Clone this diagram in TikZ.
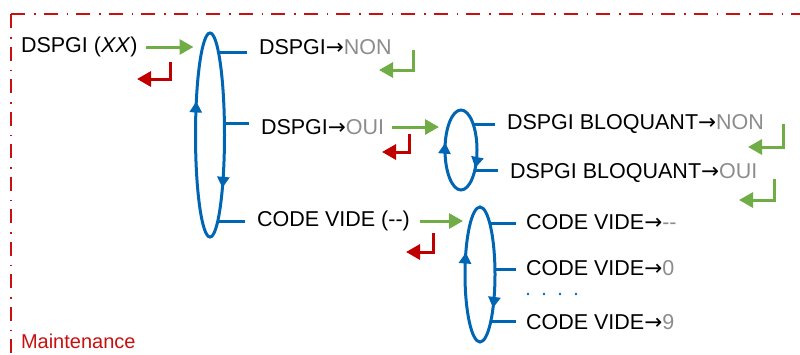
\documentclass[tikz,border=0pt]{standalone}
\usepackage{fontspec}
\setmainfont{Liberation Sans}
\newfontfamily\arrowfont{DejaVu Sans}
\usetikzlibrary{positioning, arrows.meta, shapes.geometric, decorations.markings}
\definecolor{loopblue}{RGB}{0,101,178}
\definecolor{fwdgreen}{RGB}{112,173,71}
\definecolor{backred}{RGB}{192,0,0}
\definecolor{valgray}{RGB}{140,140,140}
\definecolor{framered}{RGB}{200,16,16}
\newcommand{\val}[1]{\textcolor{valgray}{#1}}
\newcommand{\goesto}{{\arrowfont →}}

\begin{document}
\begin{tikzpicture}[
  x=1pt, y=-1pt,
  entry/.style={anchor=west, inner xsep=1pt, inner ysep=2pt, outer sep=0pt,
                font=\fontsize{21.5}{25}\selectfont},
  loop/.style 2 args={draw=loopblue, line width=3pt, ellipse, inner sep=0pt, outer sep=0pt,
                postaction={decorate},
                decoration={markings,
                  mark=at position #1 with {\arrowreversed{Triangle[length=11pt,width=12pt]}},
                  mark=at position #2 with {\arrowreversed{Triangle[length=11pt,width=12pt]}}}},
  branch/.style={draw=loopblue, line width=3pt, shorten >=11pt},
  fwd/.style={draw=fwdgreen, line width=3pt, -{Triangle[length=14pt,width=15pt]}},
  ret/.style={line width=3pt, -{Triangle[length=14pt,width=15pt]}},
  frame/.style={draw=framered, line width=1.3pt, dash pattern=on 14pt off 9pt on 1.5pt off 8pt},
]
  \useasboundingbox (0,0) rectangle (800,354);

  \coordinate (frameCorner) at (11,14);
  \draw[frame] (frameCorner) -- (800,14);
  \draw[frame] (frameCorner) -- (11,354);
  \node[entry, text=framered, inner ysep=0pt, font=\fontsize{20}{24}\selectfont] (maintLbl) at (20,341) {Maintenance};

  \node[entry] (xxLbl) at (20,47) {DSPGI (\textit{XX})};
  \node[loop={0.42}{0.874}, minimum width=29pt, minimum height=204pt] (loopA) at (210,135) {};
  \node[entry] (nonLbl) at (258,47) {DSPGI\goesto\val{NON}};
  \node[entry] (ouiLbl) at (260,127) {DSPGI\goesto\val{OUI}};
  \node[entry] (videLbl) at (256,221) {CODE VIDE (-{}-)};

  \node[loop={0.46}{0.902}, minimum width=32pt, minimum height=80pt] (loopB) at (461,150) {};
  \node[entry] (bnonLbl) at (506,124) {DSPGI BLOQUANT\goesto\val{NON}};
  \node[entry] (bouiLbl) at (509,173) {DSPGI BLOQUANT\goesto\val{OUI}};

  \node[loop={0.423}{0.883}, minimum width=30pt, minimum height=135pt] (loopC) at (480,274.5) {};
  \node[entry] (vDashLbl) at (525,222) {CODE VIDE\goesto\val{-{}-}};
  \node[entry] (vZeroLbl) at (525,268) {CODE VIDE\goesto\val{0}};
  \node[entry] (vNineLbl) at (525,322) {CODE VIDE\goesto\val{9}};
  \foreach \i in {0,...,3}
    \fill[loopblue] (528+16*\i,294) circle (1.3pt);

  \draw[branch] (loopA.84.8) -- (loopA.84.8 -| nonLbl.west);
  \draw[branch] (loopA.39.8) -- (loopA.39.8 -| ouiLbl.west);
  \draw[branch] (loopA.-85) -- (loopA.-85 -| videLbl.west);
  \draw[branch] (loopB.64.9) -- (loopB.64.9 -| bnonLbl.west);
  \draw[branch] (loopB.-57) -- (loopB.-57 -| bouiLbl.west);
  \draw[branch, shorten >=9pt] (loopC.79.5) -- (loopC.79.5 -| vDashLbl.west);
  \draw[branch, shorten >=9pt] (loopC.20.2) -- (loopC.20.2 -| vZeroLbl.west);
  \draw[branch, shorten >=9pt] (loopC.-77.4) -- (loopC.-77.4 -| vNineLbl.west);

  \draw[fwd, shorten <=7pt, shorten >=2pt] (xxLbl.east) -- (xxLbl.east -| loopA.west);
  \draw[fwd, shorten <=7pt, shorten >=6pt] (ouiLbl.east) -- (ouiLbl.east -| loopB.west);
  \draw[fwd, shorten <=9pt, shorten >=2pt] (videLbl.east) -- (videLbl.east -| loopC.west);

  \coordinate (xxBack) at (170,62);
  \coordinate (ouiBack) at (409,134);
  \coordinate (videBack) at (433,233);
  \coordinate (nonBack) at (413,50);
  \coordinate (bnonBack) at (783,124);
  \coordinate (bouiBack) at (774,179);
  \draw[ret, backred] (xxBack) |- ++(-33,17);
  \draw[ret, backred] (ouiBack) |- ++(-27,18);
  \draw[ret, backred] (videBack) |- ++(-27,19);
  \draw[ret, fwdgreen] (nonBack) |- ++(-34,20);
  \draw[ret, fwdgreen] (bnonBack) |- ++(-35,23);
  \draw[ret, fwdgreen] (bouiBack) |- ++(-35,21);
\end{tikzpicture}
\end{document}
